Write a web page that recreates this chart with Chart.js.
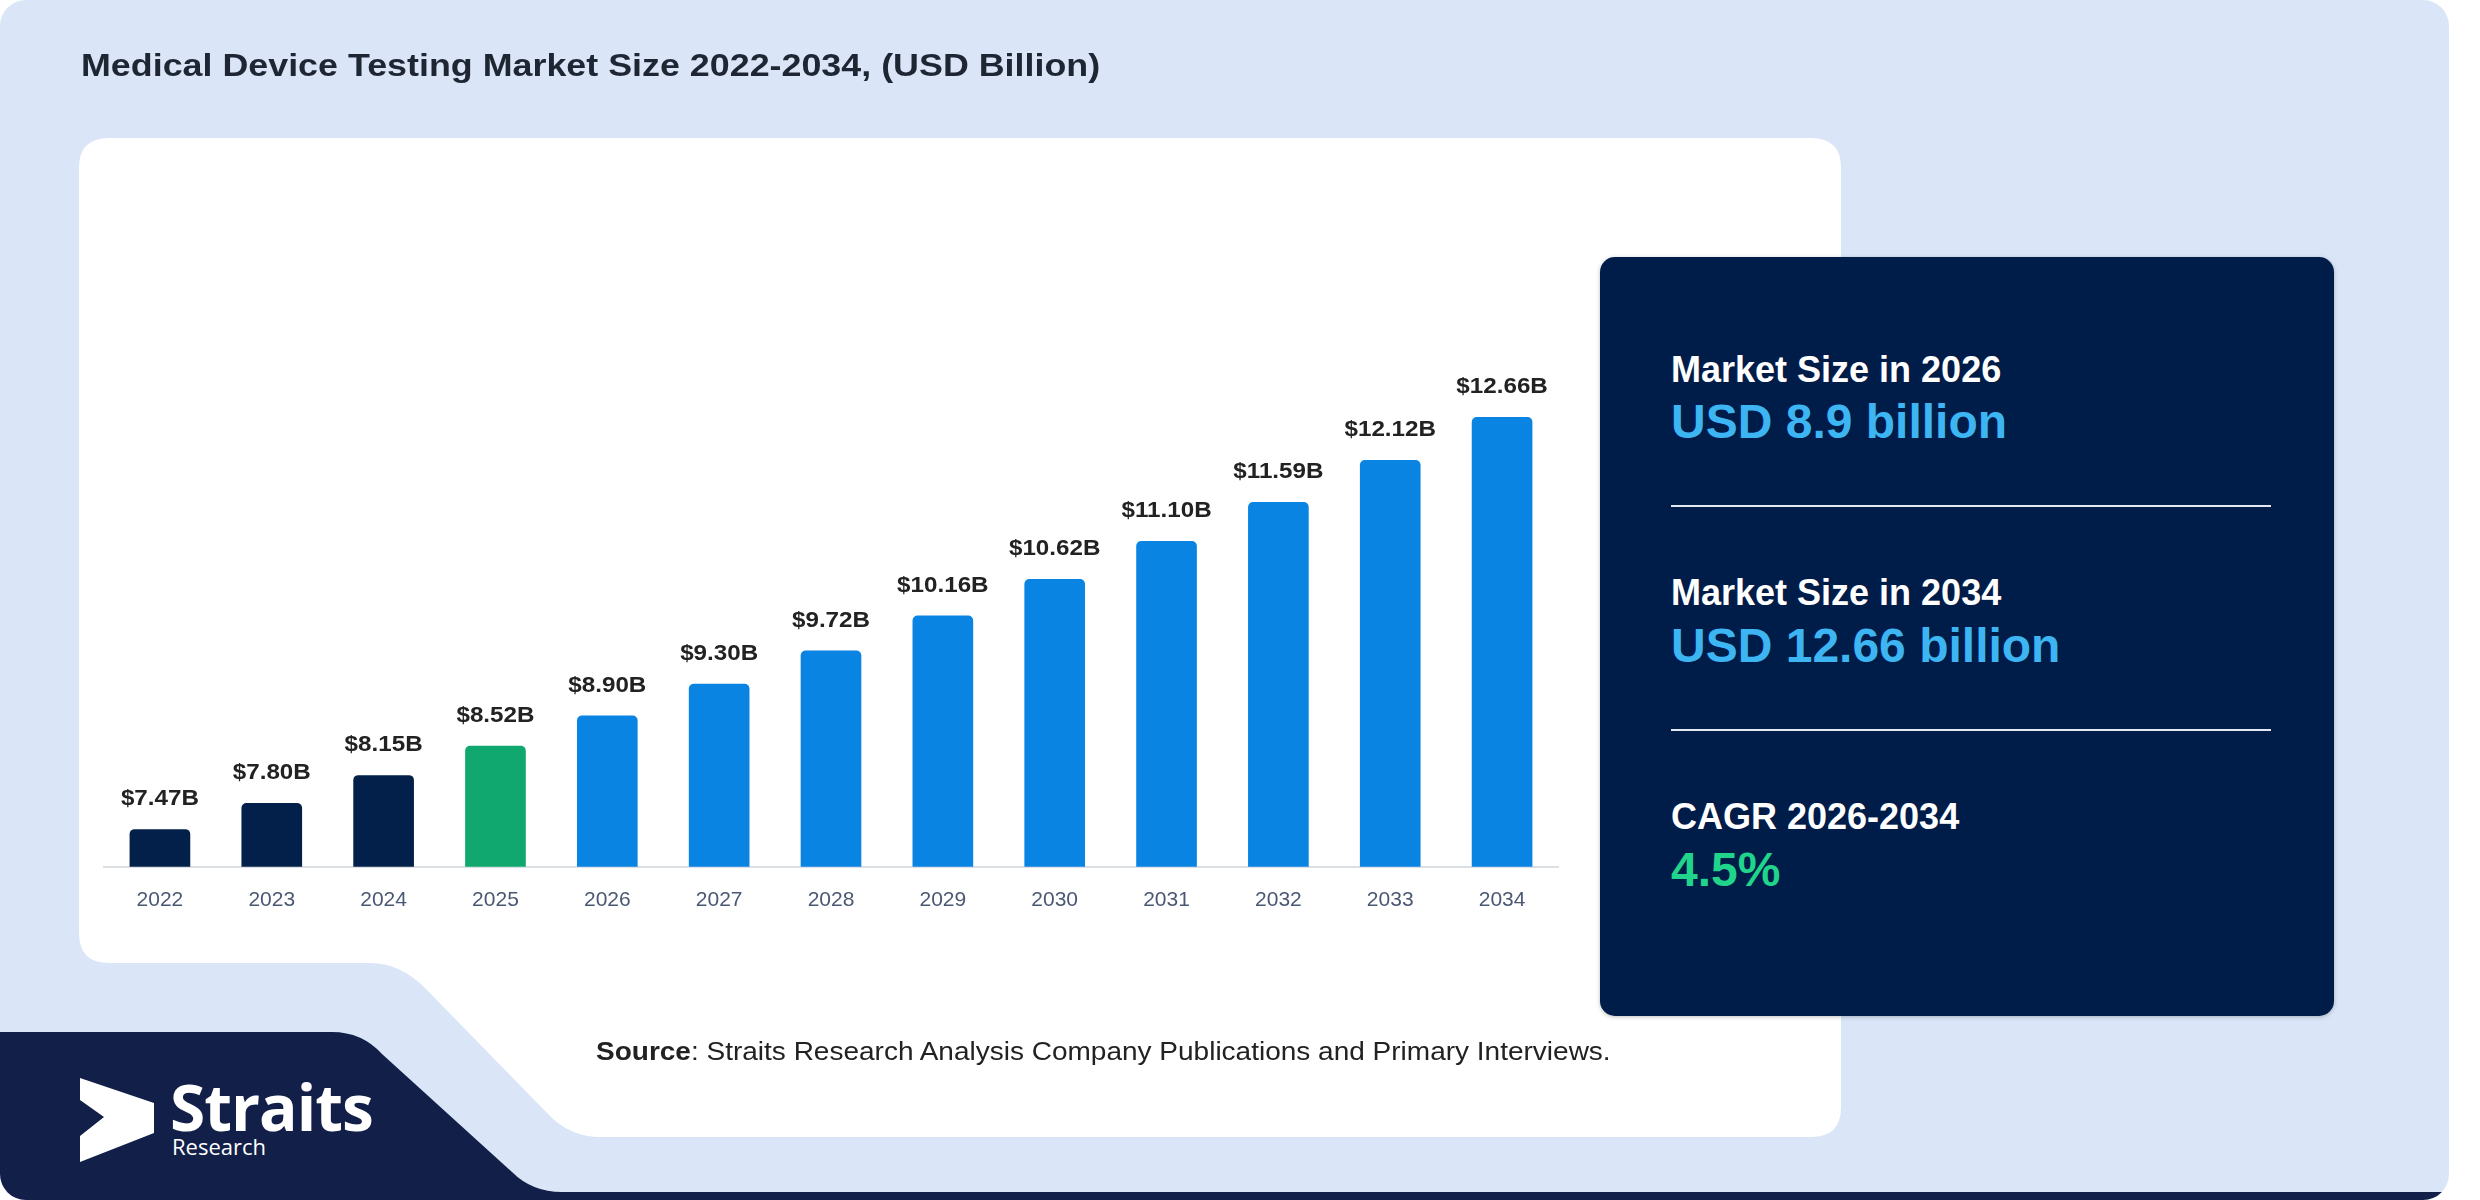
<!DOCTYPE html>
<html>
<head>
<meta charset="utf-8">
<script src="https://cdn.jsdelivr.net/npm/chart.js@4.4.1/dist/chart.umd.min.js"></script>
<style>
  html, body { margin: 0; padding: 0; background: #ffffff; }
  body { width: 2480px; height: 1200px; position: relative; overflow: hidden; font-family: "Liberation Sans", Arial, sans-serif; }
  .abs { position: absolute; white-space: nowrap; }
  #bg { position: absolute; left: 0; top: 0; }
  #title { left: 81px; top: 47px; font-size: 32px; font-weight: bold; color: #1e2533; transform: scaleX(1.12); transform-origin: left top; }
  #chartWrap { position: absolute; left: 80px; top: 300px; width: 1500px; height: 640px; }
  #source { left: 596px; top: 1037px; font-size: 25px; color: #222; transform: scaleX(1.12); transform-origin: left top; }
  .lbl { left: 1671px; font-size: 36px; font-weight: bold; color: #ffffff; }
  .big { left: 1671px; font-size: 48px; font-weight: bold; color: #3db5f2; }
  .rule { position: absolute; left: 1671px; width: 600px; height: 2px; background: #e3e9f2; }
  #logoTxt { left: 170px; top: 1063px; font-family: "Open Sans", sans-serif; font-weight: bold; font-size: 64px; color: #fff; letter-spacing: -1px; }
  #logoSub { left: 172px; top: 1131px; font-family: "Open Sans", sans-serif; font-size: 22px; color: #fff; }
</style>
</head>
<body>
<svg id="bg" width="2480" height="1200" viewBox="0 0 2480 1200">
  <defs>
    <clipPath id="outerClip"><rect x="0" y="0" width="2449" height="1200" rx="26"/></clipPath>
    <filter id="sh" x="-5%" y="-5%" width="110%" height="110%">
      <feDropShadow dx="0" dy="1" stdDeviation="2" flood-color="#000" flood-opacity="0.25"/>
    </filter>
  </defs>
  <rect x="0" y="0" width="2449" height="1200" rx="26" fill="#dae6f8"/>
  <g clip-path="url(#outerClip)">
    <path d="M -10 1032 H 332 Q 362 1032 382 1054 L 512 1172 Q 532 1192 562 1192 H 2480 V 1210 H -10 Z" fill="#121f49"/>
  </g>
  <path d="M 109 138 H 1811 Q 1841 138 1841 168 V 1107 Q 1841 1137 1811 1137 H 600 Q 572 1137 551 1117 L 425 988 Q 400 963 370 963 H 109 Q 79 963 79 933 V 168 Q 79 138 109 138 Z" fill="#ffffff"/>
  <rect x="1600" y="257" width="734" height="759" rx="15" fill="#011e48" filter="url(#sh)"/>
  <path d="M 80 1078 L 154 1103 L 154 1133 L 80 1162 L 80 1136 L 104 1117 L 80 1100 Z" fill="#ffffff"/>
</svg>

<div id="title" class="abs">Medical Device Testing Market Size 2022-2034, (USD Billion)</div>

<div id="chartWrap"><canvas id="marketChart" width="1500" height="640"></canvas></div>

<div id="source" class="abs"><b>Source</b>: Straits Research Analysis Company Publications and Primary Interviews.</div>

<div class="abs lbl" style="top:349px">Market Size in 2026</div>
<div class="abs big" style="top:394px">USD 8.9 billion</div>
<div class="rule" style="top:505px"></div>
<div class="abs lbl" style="top:572px">Market Size in 2034</div>
<div class="abs big" style="top:618px">USD 12.66 billion</div>
<div class="rule" style="top:729px"></div>
<div class="abs lbl" style="top:796px">CAGR 2026-2034</div>
<div class="abs big" style="top:842px; color:#20d48b">4.5%</div>

<div id="logoTxt" class="abs">Straits</div>
<div id="logoSub" class="abs">Research</div>

<script>
// chart data
const years = ['2022', '2023', '2024', '2025', '2026', '2027', '2028', '2029', '2030', '2031', '2032', '2033', '2034'];
const marketSize = [7.47, 7.80, 8.15, 8.52, 8.90, 9.30, 9.72, 10.16, 10.62, 11.10, 11.59, 12.12, 12.66];
const yMin = 7;
const yMax = 14;

// colour by period: history, base year, forecast
function barColor(ctx) {
  const year = Number(years[ctx.dataIndex]);
  if (year <= 2024) return '#03204b';
  if (year == 2025) return '#10a86f';
  return '#0a84e3';
}

// value labels above each bar (slightly wide, like the original)
const valueLabels = {
  id: 'valueLabels',
  afterDatasetsDraw(chart) {
    const c = chart.ctx;
    const meta = chart.getDatasetMeta(0);
    c.save();
    c.font = "bold 22px 'Liberation Sans', Arial, sans-serif";
    c.fillStyle = '#222222';
    c.textAlign = 'center';
    c.textBaseline = 'alphabetic';
    meta.data.forEach((bar, i) => {
      c.save();
      c.translate(bar.x, bar.y - 24);
      c.scale(1.1, 1);
      c.fillText('$' + marketSize[i].toFixed(2) + 'B', 0, 0);
      c.restore();
    });
    c.restore();
  }
};

const marketChart = new Chart(document.getElementById('marketChart'), {
  type: 'bar',
  data: {
    labels: years,
    datasets: [{
      data: marketSize,
      backgroundColor: barColor,
      barThickness: 60,
      borderRadius: 5,
      borderSkipped: 'bottom'
    }]
  },
  options: {
    responsive: false,
    devicePixelRatio: 1,
    animation: false,
    layout: { padding: { left: 24, right: 22, top: 11, bottom: 6 } },
    plugins: { legend: { display: false }, tooltip: { enabled: false } },
    scales: {
      x: {
        grid: { display: false, drawTicks: false },
        border: { display: true, color: '#dcdfe4', width: 2 },
        ticks: {
          padding: 21,
          color: '#4b5874',
          font: { family: "'Liberation Sans', Arial, sans-serif", size: 21 }
        }
      },
      y: {
        display: false,
        min: yMin,
        max: yMax
      }
    }
  },
  plugins: [valueLabels]
});
</script>
</body>
</html>
